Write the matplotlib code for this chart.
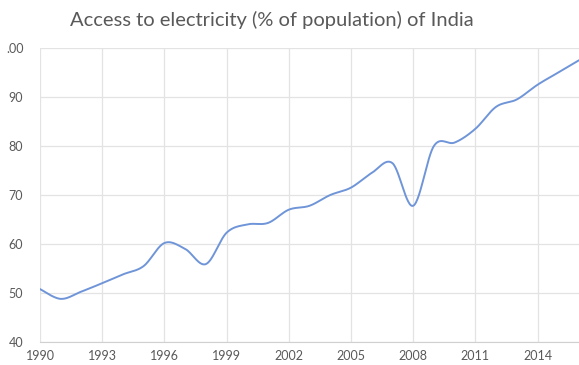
import matplotlib
matplotlib.use("Agg")
import matplotlib.pyplot as plt
import numpy as np

# Datos
years = list(range(1990, 2017))
access = [50.8, 48.8, 50.3, 52.0, 53.8, 55.5, 60.2, 59.0, 55.9, 62.3,
          64.0, 64.3, 67.0, 67.8, 70.0, 71.5, 74.5, 76.5, 67.8, 80.0,
          80.7, 83.5, 88.0, 89.5, 92.5, 95.0, 97.5]
xticks = [1990, 1993, 1996, 1999, 2002, 2005, 2008, 2011, 2014]
yticks = [40, 50, 60, 70, 80, 90, 100]
ytick_labels = ["40", "50", "60", "70", "80", "90", ".00"]

plt.rcParams['font.family'] = ['Lato', 'DejaVu Sans']
gray = "#595959"


def smooth(x, y, n=30):
    """Línea suavizada estilo Excel (Bezier tipo Catmull-Rom)."""
    p = np.column_stack([x, y]).astype(float)
    p = np.vstack([p[0], p, p[-1]])
    out = []
    t = np.linspace(0, 1, n)[:, None]
    for i in range(1, len(p) - 2):
        p0, p1, p2, p3 = p[i - 1], p[i], p[i + 1], p[i + 2]
        c1 = p1 + (p2 - p0) / 6.0
        c2 = p2 - (p3 - p1) / 6.0
        seg = ((1 - t) ** 3) * p1 + 3 * ((1 - t) ** 2) * t * c1 \
            + 3 * (1 - t) * t ** 2 * c2 + t ** 3 * p2
        out.append(seg if i == 1 else seg[1:])
    out = np.vstack(out)
    return out[:, 0], out[:, 1]


fig = plt.figure(figsize=(5.79, 3.65), dpi=100)
ax = fig.add_axes([40 / 579, 1 - 342 / 365, 1 - 40 / 579, (342 - 48) / 365])

sx, sy = smooth(years, access)
ax.plot(sx, sy, color="#6f95d8", lw=1.4, solid_capstyle="round", zorder=3)

ax.set_xlim(1990, 2016)
ax.set_ylim(40, 100)
ax.set_xticks(xticks)
ax.set_yticks(yticks)
ax.set_yticklabels(ytick_labels)
ax.grid(True, color="#e3e3e3", lw=0.9)
ax.set_axisbelow(True)
for s in ["top", "right", "left"]:
    ax.spines[s].set_visible(False)
ax.spines["bottom"].set_color("#d0d0d0")
ax.tick_params(length=0, labelsize=9, colors=gray, pad=6)
ax.tick_params(axis="y", pad=12)

fig.text(272 / 579, 1 - 20 / 365, "Access to electricity (% of population) of India",
         ha="center", va="center", fontsize=14.5, color=gray)

fig.savefig("out.png", dpi=100)
